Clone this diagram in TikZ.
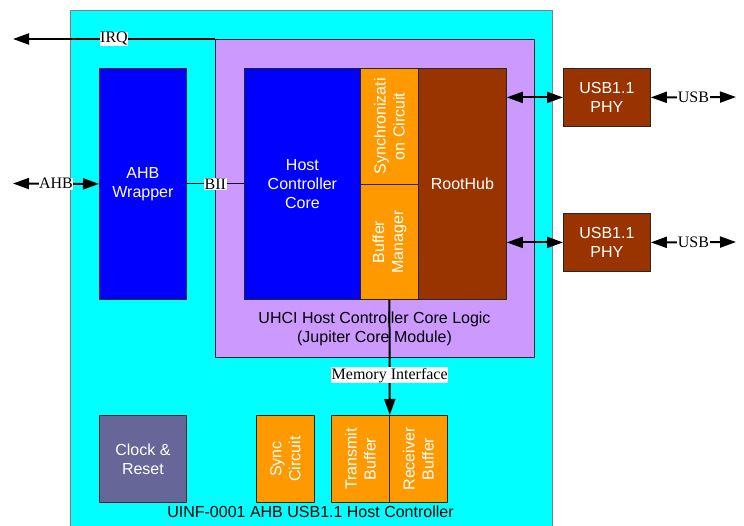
\documentclass[tikz,border=0pt]{standalone}
\usepackage{fontspec}
\setmainfont{Liberation Serif}
\setsansfont{Liberation Sans}
\usetikzlibrary{arrows.meta}
\definecolor{cyanbg}{HTML}{00FFFF}
\definecolor{purp}{HTML}{CC99FF}
\definecolor{blu}{HTML}{0000FF}
\definecolor{orng}{HTML}{FF9900}
\definecolor{brwn}{HTML}{993300}
\definecolor{slate}{HTML}{666699}
\definecolor{edgegray}{HTML}{7F7F7F}
\begin{document}
\begin{tikzpicture}[x=1pt,y=-1pt,
  blk/.style={draw=black!85, line width=0.8pt, anchor=north west, inner sep=0pt,
    font=\sffamily\fontsize{16}{19}\selectfont, text=white, align=center},
  vtxt/.style={rotate=90, inner sep=0pt, text=white, align=center,
    font=\sffamily\fontsize{16}{19}\selectfont},
  ctxt/.style={inner sep=0pt, text=black, align=center,
    font=\sffamily\fontsize{16}{19}\selectfont},
  lbl/.style={fill=white, inner sep=0.6pt, text=black, font=\fontsize{16}{16}\selectfont},
  conn/.style={line width=2pt},
  thin/.style={line width=1pt},
  tipr/.style={-{Triangle[length=16pt,width=11pt]}},
  tipb/.style={{Triangle[length=16pt,width=11pt]}-{Triangle[length=16pt,width=11pt]}}
]
\useasboundingbox (0,0) rectangle (744,526);
\clip (0,0) rectangle (744,526);

% outer module
\node[draw=edgegray, line width=1.3pt, fill=cyanbg, anchor=north west, inner sep=0pt,
  minimum width=482pt, minimum height=540pt] (outer) at (70,10) {};
\node[draw=black!85, line width=0.8pt, fill=purp, anchor=north west, inner sep=0pt,
  minimum width=319pt, minimum height=318pt] (uhci) at (215,39) {};

% blocks
\node[blk, fill=blu, minimum width=87pt, minimum height=231pt] (ahbw) at (99,68) {AHB\\Wrapper};
\node[blk, fill=blu, minimum width=116pt, minimum height=231pt] (hcc) at (244,68) {Host\\Controller\\Core};
\node[blk, fill=orng, minimum width=58pt, minimum height=116pt] (sync) at (360,68) {};
\node[vtxt] (synct) at (sync.center) {Synchronizati\\on Circuit};
\node[blk, fill=orng, minimum width=58pt, minimum height=115pt] (bm) at (360,184) {};
\node[vtxt] (bmt) at (bm.center) {Buffer\\Manager};
\node[blk, fill=brwn, minimum width=88pt, minimum height=231pt] (rh) at (418,68) {RootHub};
\node[ctxt] (uhcit) at (374.5,329) {UHCI Host Controller Core Logic\\(Jupiter Core Module)};

\node[blk, fill=brwn, minimum width=87pt, minimum height=58pt] (phy1) at (563,68) {USB1.1\\PHY};
\node[blk, fill=brwn, minimum width=87pt, minimum height=58pt] (phy2) at (563,213) {USB1.1\\PHY};

\node[blk, fill=slate, minimum width=87pt, minimum height=87pt] (clk) at (99,415) {Clock \&\\Reset};
\node[blk, fill=orng, minimum width=58pt, minimum height=87pt] (sc) at (256,415) {};
\node[vtxt] (sct) at (sc.center) {Sync\\Circuit};
\node[blk, fill=orng, minimum width=58pt, minimum height=87pt] (tx) at (331,415) {};
\node[vtxt] (txt) at (tx.center) {Transmit\\Buffer};
\node[blk, fill=orng, minimum width=58pt, minimum height=87pt] (rx) at (389,415) {};
\node[vtxt] (rxt) at (rx.center) {Receiver\\Buffer};
\node[ctxt] (title) at (310.5,512) {UINF-0001 AHB USB1.1 Host Controller};

% free ends
\coordinate (irqend) at (13,39);
\coordinate (ahbend) at (13,183.5);
\coordinate (usb1end) at (736,97);
\coordinate (usb2end) at (736,242);

% connectors
\draw[conn, tipr] (uhci.north west) -- node[lbl] (irql) {IRQ} (irqend);
\draw[conn, tipb] (ahbend) -- node[lbl] (ahbl) {AHB} (ahbw.west);
\draw[thin] (ahbw.east) -- node[lbl] (biil) {BII} (hcc.west);
\draw[conn, tipb] (phy1.west -| rh.east) -- (phy1.west);
\draw[conn, tipb] (phy2.west -| rh.east) -- (phy2.west);
\draw[conn, tipb] (phy1.east) -- node[lbl] (usbl1) {USB} (usb1end);
\draw[conn, tipb] (phy2.east) -- node[lbl] (usbl2) {USB} (usb2end);
\draw[conn, tipr] (bm.south) -- node[lbl, pos=0.655] (meml) {Memory Interface} (tx.north east);
\end{tikzpicture}
\end{document}
